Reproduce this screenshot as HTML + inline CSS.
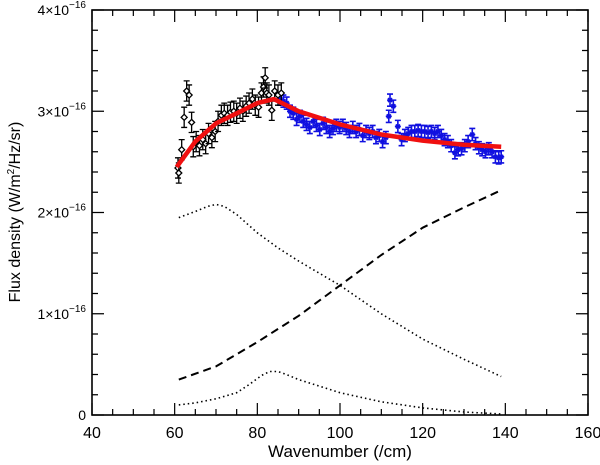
<!DOCTYPE html>
<html><head><meta charset="utf-8"><style>
html,body{margin:0;padding:0;background:#fff;}
svg{display:block;font-family:"Liberation Sans",sans-serif;}
</style></head><body>
<svg id="chart" width="600" height="465" viewBox="0 0 600 465" xmlns="http://www.w3.org/2000/svg">
<g id="grid"></g>
<g id="marks"></g>
<rect x="92" y="10" width="496" height="405" fill="none" stroke="#000" stroke-width="1.6"/>
<text x="340" y="457" font-size="17" text-anchor="middle">Wavenumber (/cm)</text>
<text transform="translate(20,212) rotate(-90)" font-size="16" text-anchor="middle">Flux density (W/m<tspan font-size="10" dy="-6">2</tspan><tspan dy="6">/Hz/sr)</tspan></text>
</svg>
<script>
const xTicks=[40,60,80,100,120,140,160];
const yTicks=[0,1,2,3,4];
const blackX=[60.8,61.0,61.7,62.3,62.9,63.5,64.1,64.5,65.2,66.0,66.8,67.5,68.2,69.0,69.8,70.5,71.3,72.0,72.8,73.5,74.3,75.0,75.8,76.5,77.3,78.0,78.8,79.5,80.3,81.0,81.5,81.9,82.3,82.8,83.5,84.2,85.0,85.8];
const blackY=[2.44,2.39,2.62,2.94,3.2,3.16,2.89,2.65,2.7,2.66,2.72,2.68,2.78,2.74,2.8,2.9,2.96,2.98,2.96,2.99,3.0,2.98,3.03,3.0,3.05,3.08,3.12,3.06,3.04,3.18,3.24,3.33,3.18,3.16,3.01,3.2,3.16,3.18];
const blueX=[85.5,86.3,87.1,87.9,88.7,89.5,90.3,91.1,91.9,92.7,93.5,94.3,95.1,95.9,96.7,97.5,98.3,99.1,99.9,100.7,101.5,102.3,103.1,103.9,104.7,105.5,106.3,107.1,107.9,108.7,109.5,110.3,111.1,111.8,112.1,112.9,114.0,114.9,115.7,116.5,117.3,118.1,118.9,119.7,120.5,121.3,122.1,122.9,123.7,124.5,125.3,126.1,126.9,127.8,128.6,129.4,130.2,131.0,132.0,132.8,133.6,134.4,135.2,136.0,136.8,137.6,138.4,139.0];
const blueY=[3.12,3.1,3.08,3.0,2.98,2.92,2.95,2.9,2.87,2.84,2.9,2.86,2.82,2.88,2.84,2.8,2.83,2.86,2.84,2.86,2.83,2.8,2.84,2.8,2.82,2.76,2.8,2.78,2.8,2.74,2.76,2.7,2.74,2.95,3.11,3.05,2.85,2.72,2.76,2.78,2.8,2.8,2.81,2.8,2.8,2.79,2.8,2.78,2.8,2.76,2.72,2.7,2.66,2.59,2.62,2.63,2.66,2.7,2.77,2.68,2.64,2.62,2.6,2.63,2.6,2.55,2.54,2.55];
const fitX=[60.5,65,70,75,80,84,90,100,110,120,130,139];
const fitY=[2.45,2.7,2.88,2.98,3.08,3.12,3.0,2.87,2.77,2.71,2.67,2.65];
const comp1X=[61,65,68,70,72,75,80,85,90,100,110,120,130,139];
const comp1Y=[1.95,2.01,2.06,2.08,2.06,1.98,1.8,1.65,1.52,1.28,1.0,0.75,0.55,0.38];
const dashX=[61,70,80,90,100,110,120,130,139];
const dashY=[0.35,0.48,0.72,0.98,1.28,1.58,1.85,2.05,2.22];
const comp2X=[61,65,70,75,78,81,83,85,87,90,100,110,120,130,139];
const comp2Y=[0.1,0.12,0.16,0.22,0.3,0.39,0.43,0.43,0.4,0.35,0.22,0.13,0.07,0.03,0.01];

const NS="http://www.w3.org/2000/svg";
const L=92,R=588,T=10,B=415;
const sx=v=>L+(v-40)/120*(R-L);
const sy=v=>B-v/4*(B-T);
const grid=document.getElementById('grid'),marks=document.getElementById('marks');
function mk(tag,attrs,parent){const e=document.createElementNS(NS,tag);for(const k in attrs)e.setAttribute(k,attrs[k]);parent.appendChild(e);return e;}
for(let v=40;v<=160;v+=5){const major=v%20===0;const len=major?12:6;const x=sx(v);
 const t=mk('path',{d:`M${x},${B}v${-len}M${x},${T}v${len}`,stroke:'#000','stroke-width':1.2},grid);
 
 }
xTicks.forEach(v=>{const t=mk('text',{x:sx(v),y:438,'font-size':16,'text-anchor':'middle'},grid);t.textContent=v;
 
 });
for(let i=0;i<=20;i++){const v=i*0.2;const major=i%5===0;const len=major?12:6;const y=sy(v);
 const t=mk('path',{d:`M${L},${y}h${len}M${R},${y}h${-len}`,stroke:'#000','stroke-width':1.2},grid);
 
 }
yTicks.forEach(v=>{const t=mk('text',{x:86,y:sy(v)+5,'font-size':14,'text-anchor':'end'},grid);
 if(v===0){t.textContent='0';}else{t.textContent=v+'\u00d710';const s=mk('tspan',{dy:-7,'font-size':10},t);s.textContent='\u221216';}
 
 });
function line(xs,ys,attrs,name){const d=xs.map((x,i)=>(i?'L':'M')+sx(x).toFixed(1)+','+sy(ys[i]).toFixed(1)).join('');
 const p=mk('path',Object.assign({d,fill:'none','stroke-linejoin':'round'},attrs),marks);
 
 }
line(comp1X,comp1Y,{stroke:'#000','stroke-width':1.6,'stroke-dasharray':'1.5 3'},'component-dotted-1');
line(dashX,dashY,{stroke:'#000','stroke-width':2,'stroke-dasharray':'8 5'},'component-dashed');
line(comp2X,comp2Y,{stroke:'#000','stroke-width':1.6,'stroke-dasharray':'1.5 3'},'component-dotted-2');
function pts(xs,ys,err,color,name,diamond){xs.forEach((x,i)=>{const cx=sx(x),cy=sy(ys[i]),e=sy(0)-sy(err);
 const g=mk('g',{stroke:color,'stroke-width':diamond?1.3:1.6,fill:'none'},marks);
 
 
 mk('path',{d:`M${cx},${cy-e}V${cy+e}M${cx-3},${cy-e}h6M${cx-3},${cy+e}h6`},g);
 if(diamond)mk('path',{d:`M${cx},${cy-3}l3,3l-3,3l-3,-3z`,fill:'#fff'},g);
 else mk('path',{d:`M${cx-3},${cy}h6M${cx-2},${cy-2}l4,4M${cx+2},${cy-2}l-4,4`},g);});}
pts(blueX,blueY,0.06,'#1010e0','blue-data-point',false);
pts(blackX,blackY,0.1,'#000','black-data-point',true);
line(fitX,fitY,{stroke:'#f01010','stroke-width':4.5},'model-fit-line');
</script>
</body></html>
